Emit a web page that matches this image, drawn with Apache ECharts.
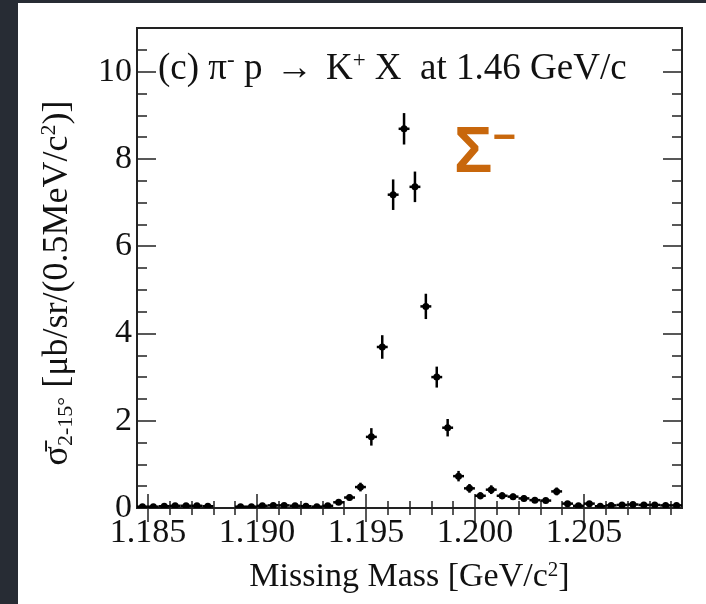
<!DOCTYPE html>
<html lang="en">
<head>
  <meta charset="utf-8">
</head>
<body style="margin: 0; background: #272c34; width: 706px; height: 604px; overflow: hidden">
  <div id="container" style="position: absolute; left: 18px; top: 3px; width: 688px; height: 601px; background: #fff"></div>

  <script type="text/javascript" src="https://fastly.jsdelivr.net/npm/echarts@6/dist/echarts.min.js"></script>

  <script type="text/javascript">
    // bin centres (0.5 MeV bins), cross sections and errors
    var mass = [1.18475, 1.18525, 1.18575, 1.18625, 1.18675, 1.18725, 1.18775,
                1.18925, 1.18975, 1.19025, 1.19075, 1.19125, 1.19175, 1.19225, 1.19275, 1.19325,
                1.19375, 1.19425, 1.19475, 1.19525, 1.19575, 1.19625, 1.19675, 1.19725, 1.19775,
                1.19825, 1.19875, 1.19925, 1.19975, 1.20025, 1.20075, 1.20125, 1.20175, 1.20225,
                1.20275, 1.20325, 1.20375, 1.20425, 1.20475, 1.20525, 1.20575, 1.20625, 1.20675,
                1.20725, 1.20775, 1.20825, 1.20875, 1.20925];
    var sigma = [0.03, 0.03, 0.04, 0.05, 0.05, 0.05, 0.04,
                 0.03, 0.03, 0.05, 0.06, 0.06, 0.05, 0.04, 0.03, 0.05,
                 0.13, 0.24, 0.48, 1.63, 3.69, 7.18, 8.69, 7.36, 4.62,
                 3.00, 1.84, 0.73, 0.45, 0.28, 0.42, 0.28, 0.26, 0.22,
                 0.18, 0.17, 0.38, 0.10, 0.05, 0.10, 0.04, 0.06, 0.07,
                 0.08, 0.07, 0.07, 0.06, 0.06];
    var sigmaErr = [0.03, 0.03, 0.03, 0.03, 0.03, 0.03, 0.03,
                    0.03, 0.03, 0.03, 0.03, 0.03, 0.03, 0.03, 0.03, 0.03,
                    0.05, 0.07, 0.10, 0.20, 0.27, 0.35, 0.36, 0.35, 0.29,
                    0.24, 0.20, 0.12, 0.10, 0.08, 0.10, 0.08, 0.07, 0.07,
                    0.06, 0.06, 0.09, 0.04, 0.03, 0.04, 0.03, 0.03, 0.03,
                    0.03, 0.03, 0.03, 0.03, 0.03];
    var halfBin = 0.00025;

    var xMajor = [1.185, 1.190, 1.195, 1.200, 1.205];
    var xMinor = [1.186, 1.187, 1.188, 1.189, 1.191, 1.192, 1.193, 1.194, 1.196, 1.197,
                  1.198, 1.199, 1.201, 1.202, 1.203, 1.204, 1.206, 1.207, 1.208, 1.209];
    var yMajor = [0, 2, 4, 6, 8, 10];
    var yMinor = [0.5, 1, 1.5, 2.5, 3, 3.5, 4.5, 5, 5.5, 6.5, 7, 7.5, 8.5, 9, 9.5, 10.5];

    var serif = '"Liberation Serif", "DejaVu Serif", serif';
    var ink = '#111';
    var orange = '#c8670c';

    var myChart = echarts.init(document.getElementById('container'), null, { renderer: 'canvas' });

    function xAxisDef(pos, ticks, len, labels) {
      return {
        type: 'value', position: pos, min: 1.1845, max: 1.2095,
        axisLine: { show: false }, splitLine: { show: false },
        axisTick: { show: true, inside: true, length: len, customValues: ticks, lineStyle: { color: '#222', width: 1.5 } },
        axisLabel: labels ? {
          show: true, customValues: ticks, margin: 8, color: ink, fontFamily: serif, fontSize: 34,
          formatter: function (v) { return v.toFixed(3); }
        } : { show: false }
      };
    }
    function yAxisDef(pos, ticks, len, labels) {
      return {
        type: 'value', position: pos, min: 0, max: 11,
        axisLine: { show: false }, splitLine: { show: false },
        axisTick: { show: true, inside: true, length: len, customValues: ticks, lineStyle: { color: '#222', width: 1.5 } },
        axisLabel: labels ? {
          show: true, customValues: ticks, margin: 5, color: ink, fontFamily: serif, fontSize: 34
        } : { show: false }
      };
    }

    var xMain = xAxisDef('bottom', xMajor, 14, true);
    xMain.name = '{t|Missing Mass [GeV/c}{s|2}{t|]}';
    xMain.nameLocation = 'middle';
    xMain.nameGap = 52;
    xMain.nameTextStyle = {
      rich: {
        t: { fontFamily: serif, fontSize: 34, color: ink },
        s: { fontFamily: serif, fontSize: 21, color: ink, verticalAlign: 'top', padding: [0, 0, 14, 0] }
      }
    };

    var option = {
      animation: false,
      grid: { left: 119, right: 24, top: 25, bottom: 96, show: true, borderColor: '#222', borderWidth: 2, backgroundColor: 'transparent' },
      xAxis: [
        xMain,
        xAxisDef('bottom', xMinor, 7, false),
        xAxisDef('top', xMajor, 14, false),
        xAxisDef('top', xMinor, 7, false)
      ],
      yAxis: [
        yAxisDef('left', yMajor, 19, true),
        yAxisDef('left', yMinor, 10, false),
        yAxisDef('right', yMajor, 19, false),
        yAxisDef('right', yMinor, 10, false)
      ],
      graphic: [
        {
          type: 'text', left: 140, top: 46,
          style: {
            text: '{t|(c) π}{s|-}{t| p }{a|→}{t| K}{s|+}{t| X  at 1.46 GeV/c}',
            rich: {
              t: { fontFamily: serif, fontSize: 37, fill: ink },
              a: { fontFamily: serif, fontSize: 37, fill: ink, padding: [0, 4, 0, 4] },
              s: { fontFamily: serif, fontSize: 23, fill: ink, verticalAlign: 'top', padding: [0, 0, 17, 0] }
            }
          }
        },
        {
          type: 'text', x: 40, y: 280, rotation: Math.PI / 2,
          style: {
            text: '{t|σ̄}{b|2-15°}{t| [μb/sr/(0.5MeV/c}{s|2}{t|)]}',
            align: 'center', verticalAlign: 'middle',
            rich: {
              t: { fontFamily: serif, fontSize: 36, fill: ink },
              b: { fontFamily: serif, fontSize: 22, fill: ink, padding: [17, 0, 0, 0] },
              s: { fontFamily: serif, fontSize: 22, fill: ink, padding: [0, 0, 17, 0] }
            }
          }
        },
        {
          type: 'text', left: 436, top: 116,
          style: {
            text: '{a|Σ}{b|−}',
            rich: {
              a: { fontFamily: '"Liberation Sans", Arial, sans-serif', fontWeight: 'bold', fontSize: 64, fill: orange },
              b: { fontFamily: '"Liberation Sans", Arial, sans-serif', fontWeight: 'bold', fontSize: 40, fill: orange, padding: [0, 0, 30, 0] }
            }
          }
        }
      ],
      series: [
        {
          type: 'custom',
          xAxisIndex: 0,
          yAxisIndex: 0,
          clip: true,
          data: mass.map(function (m, i) { return [m, sigma[i], sigmaErr[i]]; }),
          renderItem: function (params, api) {
            var x = api.value(0), y = api.value(1), e = api.value(2);
            var c = api.coord([x, y]);
            var lo = api.coord([x, Math.max(0, y - e)]);
            var hi = api.coord([x, y + e]);
            var l = api.coord([x - halfBin, y]);
            var r = api.coord([x + halfBin, y]);
            return {
              type: 'group',
              children: [
                { type: 'line', shape: { x1: c[0], y1: lo[1], x2: c[0], y2: hi[1] }, style: { stroke: '#000', lineWidth: 2.5 } },
                { type: 'line', shape: { x1: l[0], y1: c[1], x2: r[0], y2: c[1] }, style: { stroke: '#000', lineWidth: 2.5 } },
                { type: 'circle', shape: { cx: c[0], cy: c[1], r: 3.5 }, style: { fill: '#000' } }
              ]
            };
          }
        }
      ]
    };

    myChart.setOption(option);
  </script>
</body>
</html>
